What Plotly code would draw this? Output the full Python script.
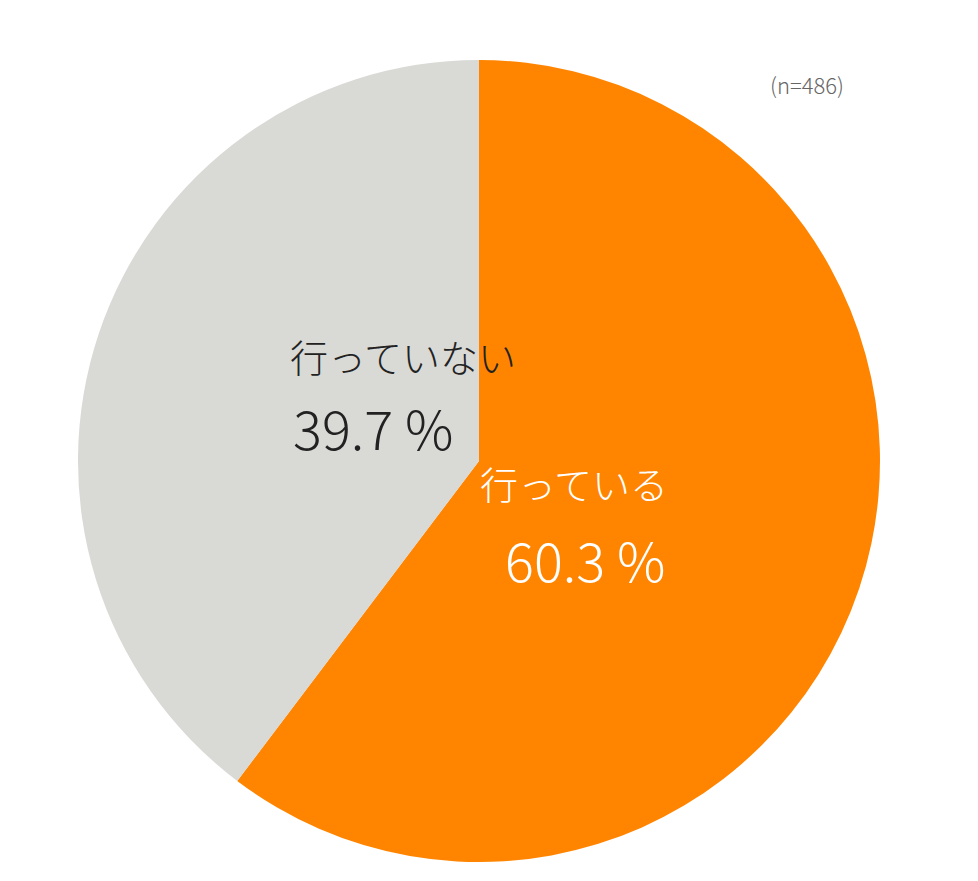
import plotly.graph_objects as go

labels = ["行っている", "行っていない"]
values = [60.3, 39.7]
colors = ["#FF8500", "#D9D9D6"]
n_note = "(n=486)"

W, H = 978, 881

def px(x, y):
    return x / W, 1 - y / H

fig = go.Figure(go.Pie(
    labels=labels, values=values, sort=False, direction="clockwise", rotation=0,
    marker=dict(colors=colors, line=dict(width=0)), textinfo="none", hoverinfo="label+percent",
    domain=dict(x=[70 / W, 872 / W], y=[1 - 854 / H, 1 - 52 / H]),
))

font = "Noto Sans CJK JP"
ann = []
pos = [((662, 475), (660, 550), "white"), ((280, 347), (283, 418), "#222222")]
for (lp, vp, col), lab, v in zip(pos, labels, values):
    x, y = px(*lp)
    ann.append(dict(x=x, y=y, text=lab, showarrow=False, xref="paper", yref="paper",
                    font=dict(family=font, size=38, color=col, weight=300)))
    x, y = px(*vp)
    ann.append(dict(x=x, y=y, text=f"{v:.1f} %", showarrow=False, xref="paper", yref="paper",
                    font=dict(family=font, size=54, color=col, weight=300)))
x, y = px(838, 58)
ann.append(dict(x=x, y=y, text=n_note, showarrow=False, xref="paper", yref="paper",
                font=dict(family=font, size=22, color="#666666", weight=300)))

fig.update_layout(width=W, height=H, margin=dict(l=0, r=0, t=0, b=0), showlegend=False,
                  paper_bgcolor="white", plot_bgcolor="white", annotations=ann)
fig.write_html("out.html")
